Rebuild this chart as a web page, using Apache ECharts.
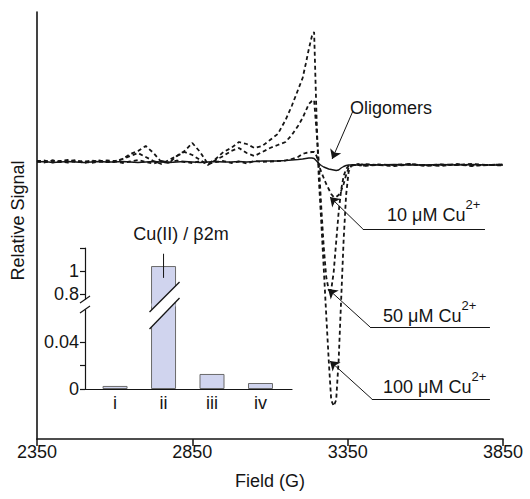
<!DOCTYPE html>
<html><head><meta charset="utf-8">
<script src="https://cdn.jsdelivr.net/npm/echarts@6/dist/echarts.min.js"></script>
<style>html,body{margin:0;padding:0;background:#fff}#c{width:530px;height:499px}</style>
</head><body><div id="c"></div>
<script>
// ---------- data ----------
const field = [2350,2375,2400,2425,2450,2475,2500,2525,2550,2575,
  2600,2625,2650,2675,2700,2725,2750,2775,2800,2825,
  2850,2875,2900,2925,2950,2975,3000,3025,3050,3075,
  3100,3125,3150,
  3170,3190,3205,3215,3225,3235,3242,
  3250,3257,3265,3273,3281,3289,3297,3305,3313,3321,3329,3337,3345,3353,3361,3370,
  3385,3400,
  3450,3500,3550,3600,3650,3700,3750,3800,3850];
const oligomers = [0.0,0.05,-0.05,0.0,0.05,0.0,-0.05,0.0,0.05,0.0,
  0.0,0.05,0.0,-0.05,0.0,0.05,0.0,-0.05,0.0,0.05,
  0.0,-0.05,0.0,0.05,0.0,0.0,0.05,0.0,0.05,0.1,
  0.1,0.1,0.15,
  0.2,0.25,0.3,0.35,0.4,0.4,0.35,
  0.1,-0.15,-0.35,-0.5,-0.6,-0.7,-0.75,-0.8,-0.85,-0.8,-0.6,-0.45,-0.35,-0.3,-0.3,-0.3,
  -0.3,-0.25,
  -0.3,-0.25,-0.3,-0.3,-0.25,-0.3,-0.25,-0.3,-0.3];
const cu10 = [0.1,0.0,0.15,0.05,-0.05,0.1,0.0,0.15,0.05,0.0,
  0.1,-0.1,0.05,0.2,0.0,-0.15,0.1,-0.05,0.15,0.0,
  -0.1,0.1,-0.2,0.0,0.1,-0.1,0.05,-0.15,0.1,0.0,
  0.05,0.1,0.15,
  0.3,0.5,0.8,0.9,0.95,1.0,1.0,
  0.6,-0.3,-1.0,-1.6,-2.2,-2.7,-3.2,-3.5,-3.5,-3.3,-2.9,-2.2,-1.3,-0.6,-0.35,-0.3,
  -0.3,-0.4,
  -0.3,-0.35,-0.2,-0.4,-0.3,-0.25,-0.4,-0.3,-0.35];
const cu50 = [0.05,0.15,-0.05,0.1,0.2,0.0,0.1,-0.1,0.05,0.15,
  0.1,0.3,0.6,0.9,0.5,0.1,-0.2,0.2,0.6,1.0,
  0.7,0.2,-0.3,0.2,0.6,1.1,1.4,0.9,0.6,1.0,
  1.4,1.7,2.0,
  2.7,3.6,4.4,5.1,5.8,6.1,6.2,
  3.0,0.0,-4.5,-8.5,-11.5,-12.8,-12.8,-11.0,-8.0,-5.0,-2.8,-1.4,-0.7,-0.4,-0.3,-0.3,
  -0.35,-0.2,
  -0.3,-0.4,-0.25,-0.3,-0.4,-0.2,-0.35,-0.3,-0.25];
const cu100 = [0.1,-0.05,0.15,0.0,0.1,0.2,-0.1,0.05,0.15,0.0,
  0.0,0.3,0.8,1.1,1.6,0.9,0.0,-0.1,0.6,1.1,
  1.9,1.0,-0.2,0.3,1.0,1.4,2.0,1.8,1.4,1.6,
  2.2,2.8,4.2,
  5.6,7.2,8.4,9.8,11.3,12.6,13.0,
  4.3,-1.6,-6.0,-10.6,-15.3,-19.8,-23.8,-24.4,-23.8,-19.8,-13.8,-7.8,-3.3,-1.0,-0.4,-0.3,
  -0.2,-0.35,
  -0.25,-0.3,-0.2,-0.35,-0.25,-0.3,-0.2,-0.3,-0.25];
const xTicks = [2350, 2850, 3350, 3850];

const insetCategories = ['i', 'ii', 'iii', 'iv'];
const insetValues = [0.0026, 1.043, 0.0128, 0.0051];
const insetErrLow = [null, 0.94, null, null];
const insetErrHigh = [null, 1.15, null, null];
const lowerTicks = [0, 0.02, 0.04];
const lowerLabels = [0, 0.04];
const upperTicks = [0.8, 1, 1.2];
const upperLabels = [0.8, 1];

// annotation leaders, in data space [field, signal]
const annotations = [
  {text: 'Oligomers', sup: '', from: [3367, 5.1], tip: [3300, 0.3], end: null},
  {text: '10 \u03bcM Cu', sup: '2+', from: [3399, -6.7], tip: [3293, -3.5], end: [3792, -6.7]},
  {text: '50 \u03bcM Cu', sup: '2+', from: [3422, -16.5], tip: [3287, -12.7], end: [3808, -16.5]},
  {text: '100 \u03bcM Cu', sup: '2+', from: [3428, -23.7], tip: [3293, -19.9], end: [3808, -23.7]}
];

// ---------- chart ----------
const FONT = '"Liberation Sans", Arial, Helvetica, sans-serif';
const INK = '#151515';
const BAR = '#d0d4ee';
const chart = echarts.init(document.getElementById('c'), null, {renderer: 'svg', width: 530, height: 499});
const pairs = arr => field.map((f, i) => [f, arr[i]]);

const markData = [];
annotations.forEach(a => {
  markData.push([{coord: a.from, symbol: 'none'}, {coord: a.tip, symbol: 'arrow'}]);
  if (a.end) markData.push([{coord: a.from, symbol: 'none'}, {coord: a.end, symbol: 'none'}]);
});

function spec(name, arr, dashed, extra) {
  return Object.assign({
    type: 'line', name, data: pairs(arr), xAxisIndex: 0, yAxisIndex: 0,
    showSymbol: false, symbol: 'none', smooth: false, silent: true,
    lineStyle: {color: INK, width: dashed ? 1.8 : 1.4, type: dashed ? [4, 3] : 'solid'},
    z: dashed ? 3 : 4
  }, extra || {});
}
const fmt = v => String(+(+v).toFixed(4));

const option = {
  animation: false,
  backgroundColor: '#fff',
  textStyle: {fontFamily: FONT},
  grid: [
    {left: 37, right: 27, top: 12, bottom: 60},
    {left: 85, right: 238, top: 248, bottom: 194},
    {left: 85, right: 238, top: 305, bottom: 110}
  ],
  xAxis: [
    {gridIndex: 0, type: 'value', min: xTicks[0], max: xTicks[xTicks.length - 1],
      axisLine: {show: true, onZero: false, lineStyle: {color: INK, width: 1.6}},
      axisTick: {show: true, customValues: xTicks, length: 7, inside: false, lineStyle: {color: INK, width: 1.5}},
      axisLabel: {customValues: xTicks, formatter: v => String(v), fontSize: 18, color: INK, margin: 4, fontFamily: FONT},
      splitLine: {show: false},
      name: 'Field (G)', nameLocation: 'middle', nameGap: 33,
      nameTextStyle: {fontSize: 18, color: INK, fontFamily: FONT}},
    {gridIndex: 1, type: 'value', min: 0.38, max: 4.65, show: false},
    {gridIndex: 2, type: 'value', min: 0.38, max: 4.65,
      axisLine: {show: true, onZero: false, lineStyle: {color: INK, width: 1.2}},
      axisTick: {show: false}, splitLine: {show: false},
      axisLabel: {customValues: [1, 2, 3, 4], formatter: v => insetCategories[Math.round(v) - 1],
        fontSize: 18, color: INK, margin: 5, fontFamily: FONT}}
  ],
  yAxis: [
    {gridIndex: 0, type: 'value', min: -27.7, max: 15,
      axisLine: {show: true, onZero: false, lineStyle: {color: INK, width: 1.6}},
      axisTick: {show: false}, axisLabel: {show: false}, splitLine: {show: false},
      name: 'Relative Signal', nameLocation: 'middle', nameGap: 10,
      nameTextStyle: {fontSize: 18, color: INK, fontFamily: FONT, padding: [0, 0, 0, 10]}},
    {gridIndex: 1, type: 'value', min: 0.704, max: 1.2,
      axisLine: {show: true, onZero: false, lineStyle: {color: INK, width: 1.2}},
      axisTick: {show: true, customValues: upperTicks, length: 5, lineStyle: {color: INK, width: 1.2}},
      axisLabel: {customValues: upperLabels, formatter: fmt, fontSize: 18, color: INK, margin: 6, fontFamily: FONT},
      splitLine: {show: false}},
    {gridIndex: 2, type: 'value', min: 0, max: 0.0715,
      axisLine: {show: true, onZero: false, lineStyle: {color: INK, width: 1.2}},
      axisTick: {show: true, customValues: lowerTicks, length: 5, lineStyle: {color: INK, width: 1.2}},
      axisLabel: {customValues: lowerLabels, formatter: fmt, fontSize: 18, color: INK, margin: 6, fontFamily: FONT},
      splitLine: {show: false}}
  ],
  series: [
    spec('100 uM', cu100, true),
    spec('50 uM', cu50, true),
    spec('10 uM', cu10, true),
    spec('Oligomers', oligomers, false, {
      markLine: {silent: true, animation: false, symbolSize: 9, label: {show: false},
        lineStyle: {color: INK, width: 1, type: 'solid'}, emphasis: {disabled: true},
        data: markData}
    }),
    {type: 'bar', xAxisIndex: 2, yAxisIndex: 2, barWidth: 25, silent: true,
      data: insetValues.map((v, i) => [i + 1, v]),
      itemStyle: {color: BAR, borderColor: '#6a6a6a', borderWidth: 1}},
    {type: 'bar', xAxisIndex: 1, yAxisIndex: 1, barWidth: 25, silent: true,
      data: insetValues.map((v, i) => [i + 1, v]),
      itemStyle: {color: BAR, borderColor: '#6a6a6a', borderWidth: 1}},
    {type: 'custom', xAxisIndex: 1, yAxisIndex: 1, silent: true, z: 6,
      data: insetValues.map((v, i) => [i + 1, insetErrLow[i], insetErrHigh[i]]).filter(d => d[1] != null),
      renderItem: (params, api) => {
        const p1 = api.coord([api.value(0), api.value(1)]);
        const p2 = api.coord([api.value(0), api.value(2)]);
        return {type: 'line', shape: {x1: p1[0], y1: p1[1], x2: p2[0], y2: p2[1]},
          style: {stroke: INK, lineWidth: 1}};
      }}
  ]
};
chart.setOption(option);

// ---------- decorations: axis break, labels ----------
const seamY = chart.convertToPixel({yAxisIndex: 2}, option.yAxis[2].max);
const axX = chart.convertToPixel({xAxisIndex: 2}, option.xAxis[2].min);
const barX = chart.convertToPixel({xAxisIndex: 2}, 2);
const mctx = document.createElement('canvas').getContext('2d');
mctx.font = '18px ' + FONT;

const g = [];
// break across bar ii
g.push({type: 'rect', shape: {x: barX - 12, y: seamY - 1.5, width: 24, height: 3}, style: {fill: BAR}, z: 10});
g.push({type: 'polygon', shape: {points: [[barX - 14, seamY + 7], [barX + 16, seamY - 23], [barX + 16, seamY - 7], [barX - 14, seamY + 24]]}, style: {fill: '#fff'}, z: 11});
g.push({type: 'line', shape: {x1: barX - 14, y1: seamY + 7, x2: barX + 16, y2: seamY - 23}, style: {stroke: INK, lineWidth: 1.3}, z: 12});
g.push({type: 'line', shape: {x1: barX - 14, y1: seamY + 24, x2: barX + 16, y2: seamY - 7}, style: {stroke: INK, lineWidth: 1.3}, z: 12});
// break on axis
g.push({type: 'rect', shape: {x: axX - 2, y: seamY - 5.5, width: 4, height: 10}, style: {fill: '#fff'}, z: 11});
g.push({type: 'line', shape: {x1: axX - 5, y1: seamY - 2, x2: axX + 5, y2: seamY - 9}, style: {stroke: INK, lineWidth: 1.2}, z: 12});
g.push({type: 'line', shape: {x1: axX - 5, y1: seamY + 8, x2: axX + 5, y2: seamY + 1}, style: {stroke: INK, lineWidth: 1.2}, z: 12});

function addText(txt, x, y, align, size) {
  g.push({type: 'text', x, y, z: 15, silent: true,
    style: {text: txt, font: (size || 18) + 'px ' + FONT, fill: INK,
      align: align || 'left', verticalAlign: 'middle', textAlign: align || 'left', textVerticalAlign: 'middle'}});
}
addText('Cu(II) / \u03b22m', 181, 234, 'center');
const labelPos = [[350, 107.5], [387, 215], [383, 316], [383, 387]];
annotations.forEach((a, i) => {
  const [x, y] = labelPos[i];
  addText(a.text, x, y, 'left');
  if (a.sup) {
    const w = mctx.measureText(a.text).width;
    addText(a.sup, x + w, y - 11, 'left', 13);
  }
});
chart.setOption({graphic: g});
</script>
</body></html>
